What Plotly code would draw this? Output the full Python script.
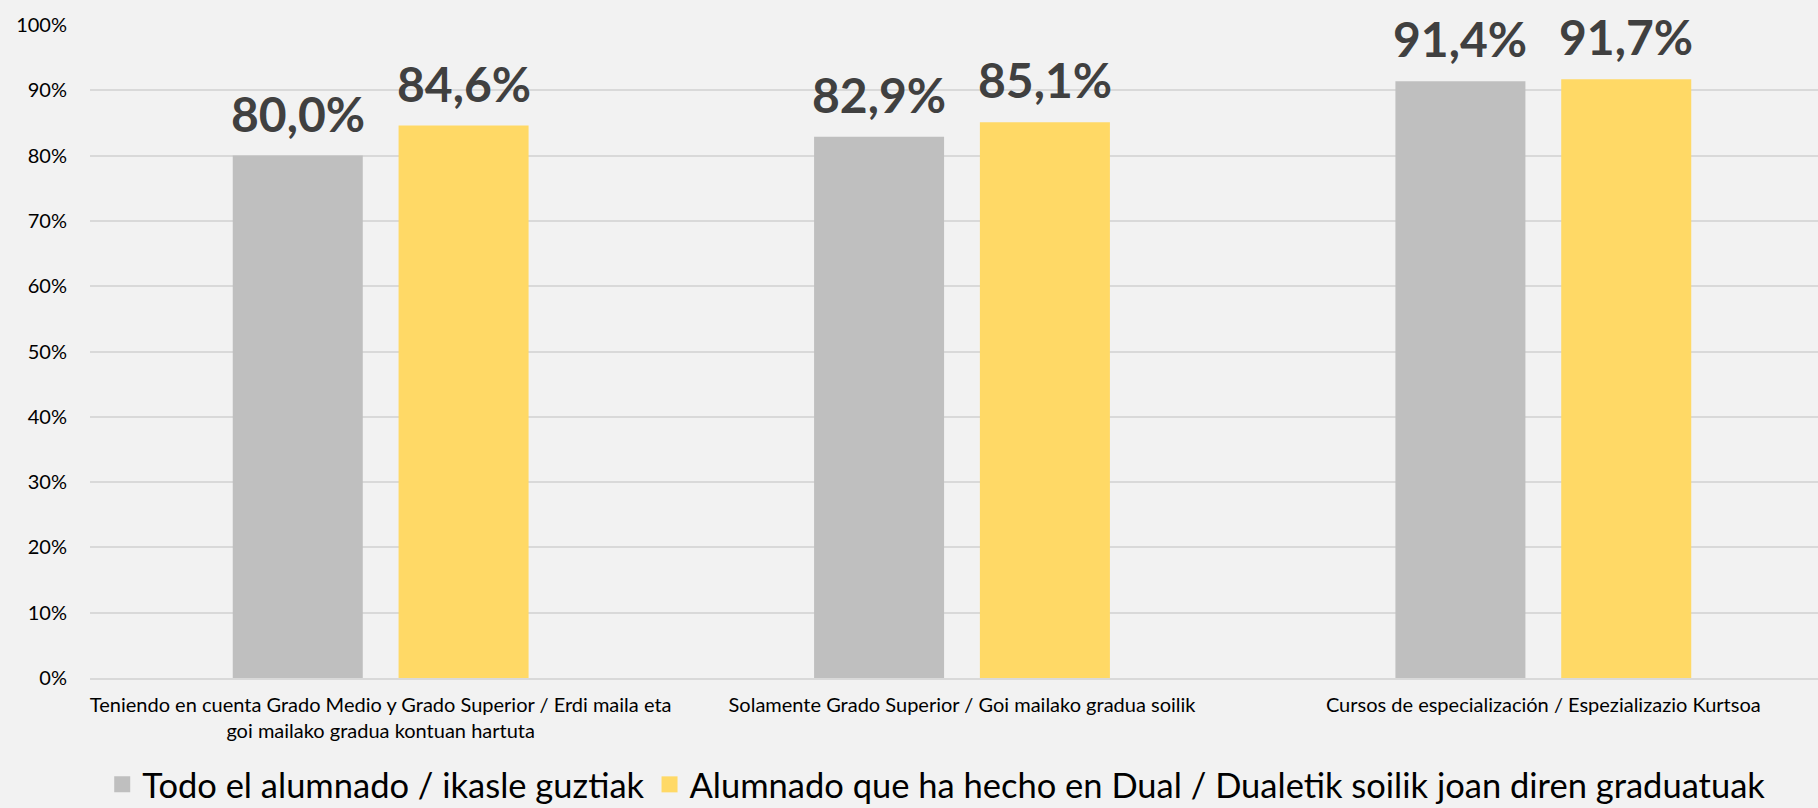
import plotly.graph_objects as go

categories = [
    "Teniendo en cuenta Grado Medio y Grado Superior / Erdi maila eta<br>goi mailako gradua kontuan hartuta",
    "Solamente Grado Superior / Goi mailako gradua soilik",
    "Cursos de especialización / Espezializazio Kurtsoa",
]
series_names = ["Todo el alumnado / ikasle guztiak",
                "Alumnado que ha hecho en Dual / Dualetik soilik joan diren graduatuak"]
todo = [0.800, 0.829, 0.914]
dual = [0.846, 0.851, 0.917]
colors = ["#bfbfbf", "#ffd966"]
ytick_vals = [i / 10 for i in range(11)]

FONT = "Lato"
W, H = 1818, 808
ML, MR, MT, MB = 90, 0, 25, 130
x_range = [-0.5, 2.4725]
bargap, bargroupgap = 0.4295, 0.216
cw = (W - ML - MR) / (x_range[1] - x_range[0])
slot = cw * (1 - bargap) / 2

fig = go.Figure()
for i, (name, vals, col) in enumerate(zip(series_names, [todo, dual], colors)):
    fig.add_trace(go.Bar(
        x=categories, y=vals, name=name, marker=dict(color=col, line=dict(width=0)),
        showlegend=False, hoverinfo="skip",
    ))
    fig.add_trace(go.Scatter(
        x=[None], y=[None], mode="markers", name=name,
        marker=dict(symbol="square", size=16, color=col), showlegend=True,
    ))
    shift = (i - 0.5) * slot
    for c, v in zip(categories, vals):
        fig.add_annotation(
            x=c, y=v, xref="x", yref="y", text=f"{v*100:.1f}%".replace(".", ","),
            showarrow=False, yanchor="bottom", xanchor="center", xshift=shift, yshift=12,
            font=dict(family=FONT, size=48, color="#404040", weight="bold"),
        )

fig.update_layout(
    width=W, height=H,
    paper_bgcolor="#f2f2f2", plot_bgcolor="#f2f2f2",
    margin=dict(l=ML, r=MR, t=MT, b=MB, autoexpand=False),
    barmode="group", bargap=bargap, bargroupgap=bargroupgap,
    font=dict(family=FONT, color="#000000"),
    showlegend=True,
    legend=dict(orientation="h", x=0.49, xanchor="center", y=-0.163, yanchor="middle",
                font=dict(family=FONT, size=34.5, color="#000000"),
                itemsizing="trace", traceorder="normal", bgcolor="rgba(0,0,0,0)",
                itemwidth=30),
)
fig.update_yaxes(range=[0, 1], tickvals=ytick_vals, tickformat=".0%", automargin=False,
                 showgrid=True, gridcolor="#d9d9d9", gridwidth=1.5,
                 zeroline=False, showline=False, ticks="",
                 tickfont=dict(family=FONT, size=20, color="#000000"), ticklabelstandoff=22)
fig.update_xaxes(range=x_range, automargin=False,
                 showgrid=False, showline=True, linecolor="#d9d9d9", linewidth=1.5,
                 ticks="", tickfont=dict(family=FONT, size=20, color="#000000"),
                 ticklabelstandoff=8)

fig.write_html("out.html", config={"displayModeBar": False},
               post_script="document.body.style.margin='0';document.body.style.background='#f2f2f2';")
